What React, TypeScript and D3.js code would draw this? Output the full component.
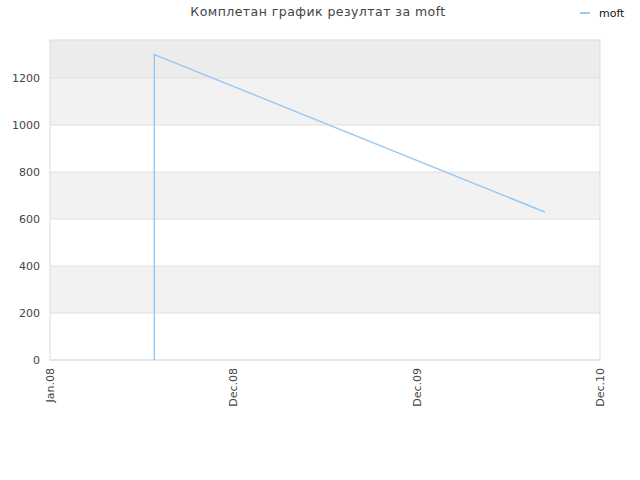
import React from 'react';
import * as d3 from 'd3';

// chart data
const SERIES_NAME = 'moft';
const DATES = [new Date(2008, 6, 21), new Date(2008, 6, 21), new Date(2010, 7, 16)];
const VALUES = [0, 1300, 630];
const TICK_LABELS = ['Jan.08', 'Dec.08', 'Dec.09', 'Dec.10'];
const Y_TICKS = [0, 200, 400, 600, 800, 1000, 1200];
const Y_MAX = 1362;

const WIDTH = 640;
const HEIGHT = 480;
const margin = { top: 40, right: 40, bottom: 120, left: 50 };
const FONT = '"DejaVu Sans", sans-serif';
const LINE_COLOR = '#99c8f2';

const App: React.FC = () => {
  const innerW = WIDTH - margin.left - margin.right;
  const innerH = HEIGHT - margin.top - margin.bottom;

  const x = d3.scaleTime()
    .domain([new Date(2008, 0, 1), new Date(2010, 11, 1)])
    .range([0, innerW]);
  // labels sit evenly along the axis
  const xTicks = d3.scalePoint<string>().domain(TICK_LABELS).range([0, innerW]);
  const y = d3.scaleLinear().domain([0, Y_MAX]).range([innerH, 0]);

  const points = DATES.map((d, i) => ({ date: d, value: VALUES[i] }));
  const line = d3.line<{ date: Date; value: number }>()
    .x(d => x(d.date))
    .y(d => y(d.value));

  // bands between gridlines, plus the part above the last tick
  const bandEdges = [...Y_TICKS, Y_MAX];
  const bands = bandEdges.slice(0, -1).map((v, i) => ({ from: v, to: bandEdges[i + 1], i }));
  const bandFill = (i: number) => {
    if (i === bands.length - 1) return '#ececec';
    return i % 2 === 1 ? '#f2f2f2' : '#ffffff';
  };

  return (
    <div style={{ position: 'fixed', left: 0, top: 0 }}>
      <svg width={WIDTH} height={HEIGHT} style={{ display: 'block', background: '#fff' }}>
        <text x={318} y={16} textAnchor="middle" fontFamily={FONT} fontSize={12.5} fill="#444" letterSpacing={0.45}>
          Комплетан график резултат за moft
        </text>

        {/* legend */}
        <line x1={580} x2={590} y1={13} y2={13} stroke={LINE_COLOR} strokeWidth={2} />
        <text x={599} y={17} fontFamily={FONT} fontSize={11} fill="#111">{SERIES_NAME}</text>

        <g transform={`translate(${margin.left},${margin.top})`}>
          {bands.map(b => (
            <rect key={b.i} x={0} width={innerW} y={y(b.to)} height={y(b.from) - y(b.to)} fill={bandFill(b.i)} />
          ))}
          {Y_TICKS.map(t => (
            <g key={t}>
              <line x1={0} x2={innerW} y1={y(t)} y2={y(t)} stroke="#e0e0e0" strokeWidth={1} />
              <text x={-10} y={y(t)} dy="0.35em" textAnchor="end" fontFamily={FONT} fontSize={11} fill="#444">{t}</text>
            </g>
          ))}
          <rect x={0} y={0} width={innerW} height={innerH} fill="none" stroke="#dcdcdc" strokeWidth={1} />

          {TICK_LABELS.map(l => (
            <text
              key={l}
              transform={`translate(${xTicks(l)},${innerH + 8}) rotate(-90)`}
              dy="0.35em"
              textAnchor="end"
              fontFamily={FONT}
              fontSize={11}
              fill="#444"
            >
              {l}
            </text>
          ))}

          <path d={line(points) || undefined} fill="none" stroke={LINE_COLOR} strokeWidth={1.5} />
        </g>
      </svg>
    </div>
  );
};

export default App;
